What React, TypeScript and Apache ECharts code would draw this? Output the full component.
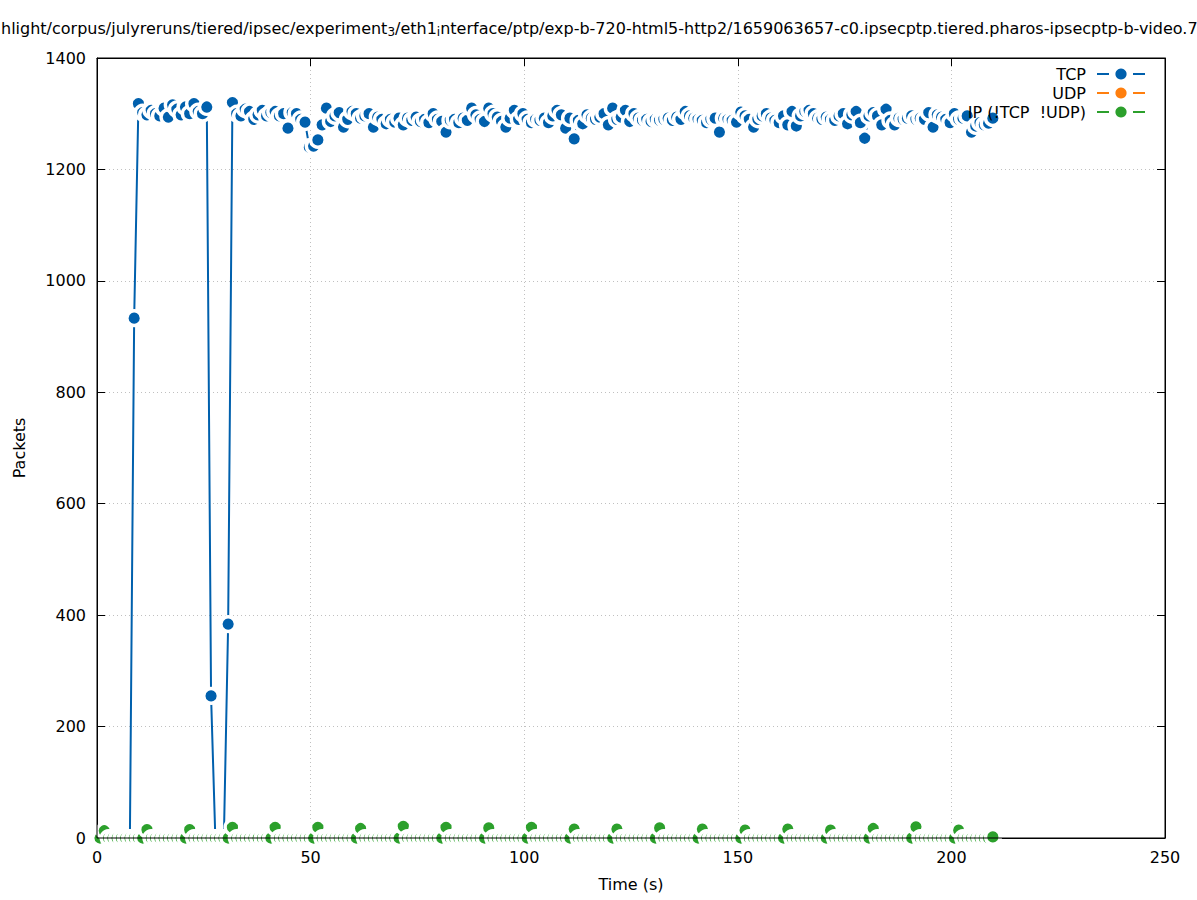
import React, { useEffect, useRef } from "react";
import * as echarts from "echarts";

// ---- data -------------------------------------------------------------
const T0 = 0.7; // time of first sample (s)
const STEP = 1; // sampling interval (s)

const seriesNames = ["TCP", "UDP", "IP (!TCP  !UDP)"];

const tcpPackets = [
  0, 0, 0, 0, 0, 0, 0, 0, 933, 1318,
  1302, 1298, 1306, 1300, 1296, 1310, 1294, 1316, 1308, 1298,
  1312, 1300, 1318, 1304, 1300, 1312, 255, 0, 0, 0,
  384, 1320, 1300, 1296, 1308, 1304, 1290, 1298, 1306, 1296,
  1302, 1304, 1296, 1300, 1274, 1302, 1300, 1290, 1285, 1240,
  1242, 1253, 1280, 1310, 1286, 1296, 1302, 1276, 1290, 1304,
  1300, 1292, 1296, 1300, 1276, 1294, 1290, 1282, 1290, 1285,
  1292, 1280, 1292, 1288, 1294, 1286, 1290, 1284, 1300, 1290,
  1286, 1267, 1288, 1290, 1284, 1292, 1288, 1310, 1298, 1290,
  1286, 1310, 1300, 1294, 1286, 1276, 1292, 1306, 1290, 1300,
  1290, 1284, 1290, 1288, 1292, 1284, 1296, 1306, 1298, 1274,
  1292, 1255, 1288, 1282, 1298, 1292, 1290, 1294, 1300, 1280,
  1310, 1290, 1294, 1306, 1286, 1300, 1292, 1288, 1290, 1286,
  1290, 1288, 1290, 1292, 1288, 1294, 1290, 1304, 1296, 1292,
  1290, 1288, 1284, 1290, 1292, 1267, 1292, 1290, 1288, 1285,
  1303, 1296, 1290, 1276, 1290, 1296, 1300, 1292, 1288, 1284,
  1296, 1280, 1304, 1278, 1296, 1304, 1306, 1300, 1292, 1290,
  1294, 1290, 1288, 1296, 1300, 1282, 1298, 1304, 1284, 1256,
  1296, 1302, 1296, 1280, 1308, 1288, 1280, 1292, 1290, 1292,
  1296, 1290, 1292, 1290, 1302, 1276, 1298, 1294, 1290, 1284,
  1300, 1290, 1292, 1296, 1267, 1278, 1284, 1280, 1283, 1292,
];

const udpPackets = [
  0, 0, 0, 0, 0, 0, 0, 0, 0, 0,
  0, 0, 0, 0, 0, 0, 0, 0, 0, 0,
  0, 0, 0, 0, 0, 0, 0, 0, 0, 0,
  0, 0, 0, 0, 0, 0, 0, 0, 0, 0,
  0, 0, 0, 0, 0, 0, 0, 0, 0, 0,
  0, 0, 0, 0, 0, 0, 0, 0, 0, 0,
  0, 0, 0, 0, 0, 0, 0, 0, 0, 0,
  0, 0, 0, 0, 0, 0, 0, 0, 0, 0,
  0, 0, 0, 0, 0, 0, 0, 0, 0, 0,
  0, 0, 0, 0, 0, 0, 0, 0, 0, 0,
  0, 0, 0, 0, 0, 0, 0, 0, 0, 0,
  0, 0, 0, 0, 0, 0, 0, 0, 0, 0,
  0, 0, 0, 0, 0, 0, 0, 0, 0, 0,
  0, 0, 0, 0, 0, 0, 0, 0, 0, 0,
  0, 0, 0, 0, 0, 0, 0, 0, 0, 0,
  0, 0, 0, 0, 0, 0, 0, 0, 0, 0,
  0, 0, 0, 0, 0, 0, 0, 0, 0, 0,
  0, 0, 0, 0, 0, 0, 0, 0, 0, 0,
  0, 0, 0, 0, 0, 0, 0, 0, 0, 0,
  0, 0, 0, 0, 0, 0, 0, 0, 0, 0,
  0, 0, 0, 0, 0, 0, 0, 0, 0, 0,
];

const ipPackets = [
  0, 13, 0, 0, 0, 0, 0, 0, 0, 0,
  0, 15, 0, 0, 0, 0, 0, 0, 0, 0,
  0, 15, 0, 0, 0, 0, 0, 0, 0, 0,
  0, 19, 0, 0, 0, 0, 0, 0, 0, 0,
  0, 19, 0, 0, 0, 0, 0, 0, 0, 0,
  0, 19, 0, 0, 0, 0, 0, 0, 0, 0,
  0, 17, 0, 0, 0, 0, 0, 0, 0, 0,
  0, 21, 0, 0, 0, 0, 0, 0, 0, 0,
  0, 19, 0, 0, 0, 0, 0, 0, 0, 0,
  0, 18, 0, 0, 0, 0, 0, 0, 0, 0,
  0, 19, 0, 0, 0, 0, 0, 0, 0, 0,
  0, 16, 0, 0, 0, 0, 0, 0, 0, 0,
  0, 16, 0, 0, 0, 0, 0, 0, 0, 0,
  0, 18, 0, 0, 0, 0, 0, 0, 0, 0,
  0, 16, 0, 0, 0, 0, 0, 0, 0, 0,
  0, 14, 0, 0, 0, 0, 0, 0, 0, 0,
  0, 16, 0, 0, 0, 0, 0, 0, 0, 0,
  0, 14, 0, 0, 0, 0, 0, 0, 0, 0,
  0, 17, 0, 0, 0, 0, 0, 0, 0, 0,
  0, 20, 0, 0, 0, 0, 0, 0, 0, 0,
  0, 14, 0, 0, 0, 0, 0, 0, 0, 2,
];

const xTicks = { min: 0, max: 250, interval: 50 };
const yTicks = { min: 0, max: 1400, interval: 200 };

const TITLE =
  "hlight/corpus/julyreruns/tiered/ipsec/experiment{sub|3}/eth1{sub|i}nterface/ptp/exp-b-720-html5-http2/1659063657-c0.ipsecptp.tiered.pharos-ipsecptp-b-video.7";

// ---- styles -----------------------------------------------------------
const COLORS = ["#0060ad", "#ff7f0e", "#2ca02c"];
const FONT = "DejaVu Sans";
const GRID = { left: 97, top: 58, width: 1068, height: 780 };

export default function App() {
  const ref = useRef<HTMLDivElement>(null);

  useEffect(() => {
    if (!ref.current) return;
    const chart = echarts.init(ref.current, null, { renderer: "svg" });
    const times = tcpPackets.map((_, i) => +(T0 + i * STEP).toFixed(3));
    const toPairs = (vals: number[]) => vals.map((v, i) => [times[i], v]);
    const allSeries = [tcpPackets, udpPackets, ipPackets];

    const axisBase = (pos: string, main: boolean, ticks: any) => ({
      type: "value",
      position: pos,
      min: ticks.min,
      max: ticks.max,
      interval: ticks.interval,
      axisLine: { show: true, onZero: false, lineStyle: { color: "#000", width: 1 } },
      axisTick: { show: true, inside: true, length: 8, lineStyle: { color: "#000", width: 1 } },
      axisLabel: {
        show: main,
        margin: 11,
        fontSize: 16,
        color: "#000",
        fontFamily: FONT,
        formatter: (v: number) => String(v),
      },
      splitLine: {
        show: main,
        lineStyle: { color: "#c0c0c0", width: 1, type: [1, 3] },
      },
    });

    const legendEls: any[] = [];
    const rowY = [74, 93, 112];
    seriesNames.forEach((name, k) => {
      const y = rowY[k];
      legendEls.push({
        type: "text",
        z: 50,
        silent: true,
        style: {
          text: name,
          x: 1086,
          y,
          align: "right",
          verticalAlign: "middle",
          fontSize: 16,
          fontFamily: FONT,
          fill: "#000",
        },
      });
      legendEls.push({
        type: "line",
        z: 50,
        silent: true,
        shape: { x1: 1097, y1: y, x2: 1109, y2: y },
        style: { stroke: COLORS[k], lineWidth: 2 },
      });
      legendEls.push({
        type: "line",
        z: 50,
        silent: true,
        shape: { x1: 1133, y1: y, x2: 1145, y2: y },
        style: { stroke: COLORS[k], lineWidth: 2 },
      });
      legendEls.push({
        type: "circle",
        z: 50,
        silent: true,
        shape: { cx: 1121, cy: y, r: 5.6 },
        style: { fill: COLORS[k] },
      });
    });

    chart.setOption({
      animation: false,
      backgroundColor: "#fff",
      textStyle: { fontFamily: FONT },
      title: {
        text: TITLE,
        left: 1,
        top: 18,
        padding: 0,
        textStyle: {
          fontSize: 16,
          fontWeight: "normal",
          color: "#000",
          fontFamily: FONT,
          lineHeight: 20,
          rich: {
            sub: {
              fontSize: 12,
              lineHeight: 12,
              verticalAlign: "bottom",
              color: "#000",
              fontFamily: FONT,
            },
          },
        },
      },
      grid: { ...GRID, containLabel: false, outerBoundsMode: "none" },
      xAxis: [
        {
          ...axisBase("bottom", true, xTicks),
          name: "Time (s)",
          nameLocation: "middle",
          nameGap: 38,
          nameTextStyle: { fontSize: 16, color: "#000", fontFamily: FONT },
        },
        axisBase("top", false, xTicks),
      ],
      yAxis: [
        {
          ...axisBase("left", true, yTicks),
          name: "Packets",
          nameLocation: "middle",
          nameGap: 70,
          nameRotate: 90,
          nameTextStyle: { fontSize: 16, color: "#000", fontFamily: FONT },
        },
        axisBase("right", false, yTicks),
      ],
      graphic: {
        elements: [
          ...legendEls,
          {
            type: "rect",
            z: 100,
            silent: true,
            shape: { x: GRID.left, y: GRID.top, width: GRID.width, height: GRID.height },
            style: { fill: "none", stroke: "#000", lineWidth: 1 },
          },
        ],
      },
      series: allSeries.map((vals, k) => ({
        type: "line",
        name: seriesNames[k],
        data: toPairs(vals),
        xAxisIndex: 0,
        yAxisIndex: 0,
        clip: false,
        silent: true,
        showSymbol: true,
        showAllSymbol: true,
        symbol: "circle",
        symbolSize: 14.6,
        lineStyle: { color: COLORS[k], width: 2 },
        itemStyle: { color: COLORS[k], borderColor: "#fff", borderWidth: 3.4 },
        emphasis: { disabled: true },
      })),
    });

    return () => chart.dispose();
  }, []);

  return (
    <div
      ref={ref}
      style={{ position: "fixed", left: 0, top: 0, width: 1197, height: 900 }}
    />
  );
}
